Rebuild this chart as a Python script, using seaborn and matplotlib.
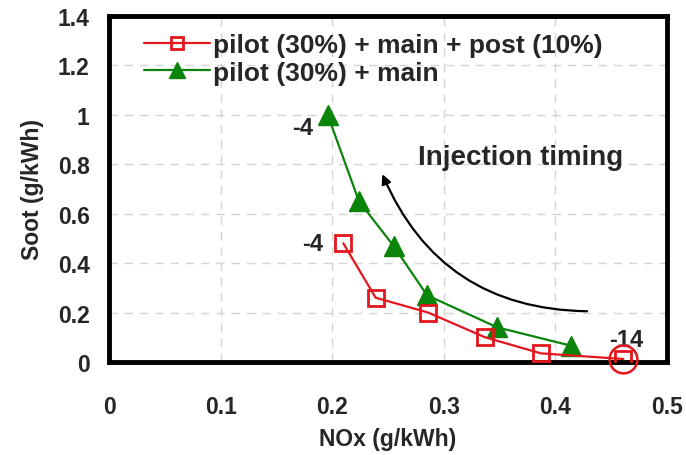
import matplotlib
matplotlib.use("Agg")
import matplotlib.pyplot as plt
import seaborn as sns
import pandas as pd

# Data
red_label = "pilot (30%) + main + post (10%)"
green_label = "pilot (30%) + main"
red_x = [0.210, 0.239, 0.286, 0.337, 0.387, 0.461]
red_y = [0.48, 0.26, 0.20, 0.10, 0.035, 0.012]
green_x = [0.196, 0.224, 0.255, 0.285, 0.348, 0.414]
green_y = [1.00, 0.65, 0.47, 0.27, 0.14, 0.066]
x_ticks = [0, 0.1, 0.2, 0.3, 0.4, 0.5]
x_tick_labels = ["0", "0.1", "0.2", "0.3", "0.4", "0.5"]
y_ticks = [0, 0.2, 0.4, 0.6, 0.8, 1.0, 1.2, 1.4]
y_tick_labels = ["0", "0.2", "0.4", "0.6", "0.8", "1", "1.2", "1.4"]

sns.set_style("white")
plt.rcParams['font.family'] = ['Liberation Sans', 'DejaVu Sans']

fig = plt.figure(figsize=(6.86, 4.56), dpi=100)
ax = fig.add_axes([0.159, 0.204, 0.813, 0.759])

RED = "#e3161d"
GREEN = "#0b840b"

df_r = pd.DataFrame({"x": red_x, "y": red_y})
df_g = pd.DataFrame({"x": green_x, "y": green_y})

sns.lineplot(data=df_r, x="x", y="y", ax=ax, sort=False, color=RED, lw=1.6,
             marker="s", markersize=11, markerfacecolor="none",
             markeredgecolor=RED, markeredgewidth=2, label=red_label, zorder=4)
sns.lineplot(data=df_g, x="x", y="y", ax=ax, sort=False, color=GREEN, lw=1.6,
             marker="^", markersize=14, markerfacecolor=GREEN,
             markeredgecolor=GREEN, markeredgewidth=1, label=green_label, zorder=3)

# circle around last red point
ax.plot(red_x[-1:], red_y[-1:], marker="o", markersize=20, markerfacecolor="none",
        markeredgecolor=RED, markeredgewidth=1.8, linestyle="none", zorder=5,
        clip_on=False)

ax.set_xlim(0, 0.5)
ax.set_ylim(0, 1.4)
ax.set_xticks(x_ticks)
ax.set_xticklabels(x_tick_labels)
ax.set_yticks(y_ticks)
ax.set_yticklabels(y_tick_labels)
for lab in ax.get_xticklabels() + ax.get_yticklabels():
    lab.set_fontweight("bold")
    lab.set_fontsize(16.5)
ax.tick_params(axis="both", direction="out", length=4, width=0.8, color="#bbbbbb")
ax.tick_params(axis="x", pad=20)
ax.tick_params(axis="y", pad=10)

ax.set_xlabel("NOx (g/kWh)", fontsize=16.5, fontweight="bold", labelpad=6)
ax.set_ylabel("Soot (g/kWh)", fontsize=16.5, fontweight="bold", labelpad=10)

ax.grid(True, linestyle=(0, (6, 5)), color="#d4d4d4", linewidth=1)
for s in ax.spines.values():
    s.set_visible(True)
    s.set_color("black")
    s.set_linewidth(3.5)

leg = ax.legend(loc="upper left", bbox_to_anchor=(0.044, 0.98), frameon=False,
                fontsize=19, handlelength=2.5, handletextpad=0.1, labelspacing=0.12,
                borderaxespad=0.0)
for t in leg.get_texts():
    t.set_fontweight("bold")
hs = leg.legend_handles
hs[0].set_markersize(8)
hs[1].set_markersize(11)

# annotations
ax.text(0.183, 0.947, "-4", fontsize=17, weight="bold", ha="right", va="center")
ax.text(0.192, 0.478, "-4", fontsize=17, weight="bold", ha="right", va="center")
ax.text(0.464, 0.089, "-14", fontsize=17, weight="bold", ha="center", va="center")
ax.text(0.277, 0.83, "Injection timing", fontsize=20, weight="bold", ha="left", va="center")

ax.annotate("", xy=(0.244, 0.77), xytext=(0.431, 0.205),
            arrowprops=dict(arrowstyle="-|>", color="black", lw=1.6,
                            mutation_scale=14,
                            connectionstyle="arc3,rad=-0.33"))

fig.savefig("out.png", dpi=100)
